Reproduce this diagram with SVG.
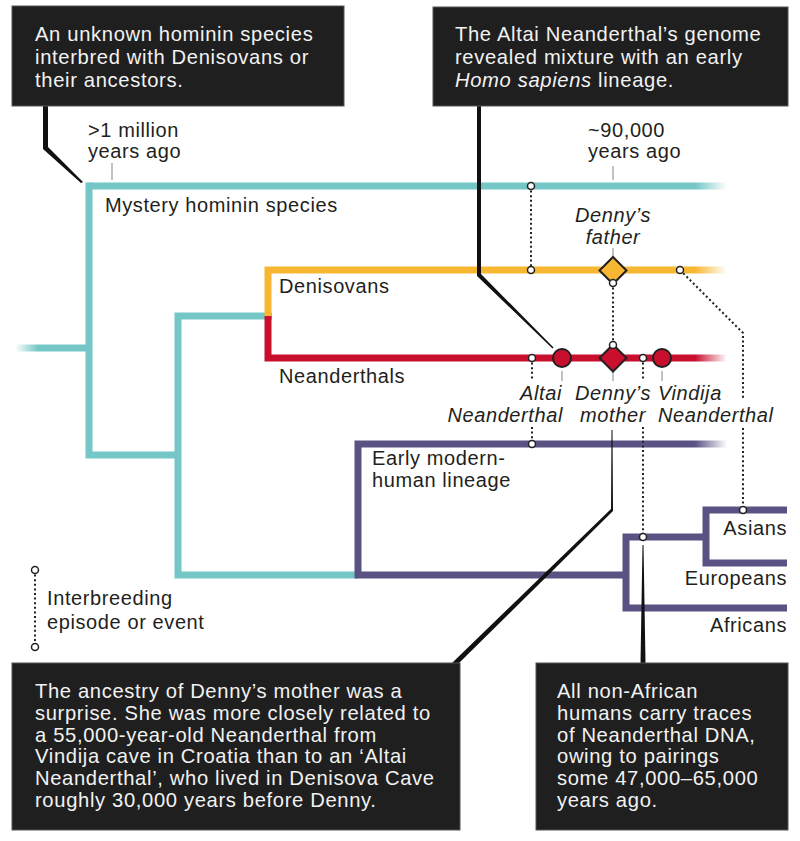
<svg xmlns="http://www.w3.org/2000/svg" width="800" height="841" viewBox="0 0 800 841">
<defs>
<style>
.box{fill:#1f1f1f;stroke:#555;stroke-width:1}
.bt{font-family:"Liberation Sans",Arial,sans-serif;font-size:20.2px;fill:#f2f2f2;letter-spacing:0.65px}
.lb{font-family:"Liberation Sans",Arial,sans-serif;font-size:20px;fill:#231f20;letter-spacing:0.6px}
.it{font-style:italic}
.teal{fill:none;stroke:#74c6c7;stroke-width:7}
.yel{fill:none;stroke:#f8b733;stroke-width:7}
.red{fill:none;stroke:#c8102e;stroke-width:7}
.pur{fill:none;stroke:#5a5283;stroke-width:7}
.dot{fill:none;stroke:#222;stroke-width:2;stroke-dasharray:2 2.6}
.pt{fill:#fff;stroke:#222;stroke-width:1.5}
.tick{stroke:#999;stroke-width:1.2}
.ptr{fill:#111}
</style>
<linearGradient id="fT" gradientUnits="userSpaceOnUse" x1="695" y1="0" x2="727" y2="0"><stop offset="0" stop-color="#74c6c7"/><stop offset="1" stop-color="#74c6c7" stop-opacity="0"/></linearGradient>
<linearGradient id="fY" gradientUnits="userSpaceOnUse" x1="695" y1="0" x2="727" y2="0"><stop offset="0" stop-color="#f8b733"/><stop offset="1" stop-color="#f8b733" stop-opacity="0"/></linearGradient>
<linearGradient id="fR" gradientUnits="userSpaceOnUse" x1="695" y1="0" x2="727" y2="0"><stop offset="0" stop-color="#c8102e"/><stop offset="1" stop-color="#c8102e" stop-opacity="0"/></linearGradient>
<linearGradient id="fP" gradientUnits="userSpaceOnUse" x1="695" y1="0" x2="727" y2="0"><stop offset="0" stop-color="#5a5283"/><stop offset="1" stop-color="#5a5283" stop-opacity="0"/></linearGradient>
<linearGradient id="fL" gradientUnits="userSpaceOnUse" x1="15" y1="0" x2="38" y2="0"><stop offset="0" stop-color="#74c6c7" stop-opacity="0"/><stop offset="1" stop-color="#74c6c7"/></linearGradient>
</defs>
<rect width="800" height="841" fill="#fff"/>

<g id="tree">
<rect x="15" y="344.5" width="74" height="7" fill="url(#fL)"/>
<rect x="89" y="182.5" width="638" height="7" fill="url(#fT)"/>
<path class="teal" d="M89,182.5 V455 H178"/>
<path class="teal" d="M272,316 H178 V575 H358"/>
<path class="yel" d="M268,316 V270 H695"/>
<rect x="695" y="266.5" width="32" height="7" fill="url(#fY)"/>
<path class="red" d="M268,316 V358 H695"/>
<rect x="695" y="354.5" width="32" height="7" fill="url(#fR)"/>
<path class="pur" d="M695,444 H358 V575 H626"/>
<rect x="695" y="440.5" width="32" height="7" fill="url(#fP)"/>
<path class="pur" d="M706,537 H626 V608 H787"/>
<path class="pur" d="M787,510 H706 V563 H787"/>
</g>

<g id="connectors">
<path class="dot" d="M531,186 V270"/>
<path class="dot" d="M613,283 V345"/>
<path class="dot" d="M680,270 L743,333 V400 M743,428 V510"/>
<path class="dot" d="M532,358 V380 M532,427 V444"/>
<path class="dot" d="M643,358 V380 M643,427 V537"/>
<path class="dot" d="M35,570 V647"/>
<line class="tick" x1="112" y1="163" x2="112" y2="180"/>
<line class="tick" x1="613" y1="166" x2="613" y2="180"/>
<line class="tick" x1="613" y1="248" x2="613" y2="257"/>
<line class="tick" x1="562" y1="371" x2="562" y2="381"/>
<line class="tick" x1="613" y1="371" x2="613" y2="381"/>
<line class="tick" x1="662" y1="371" x2="662" y2="381"/>
<polygon class="ptr" points="43,106 48,106 48,147 83,182 81,183 43,149"/>
<polygon class="ptr" points="477,106 481,106 481,274 553.5,347.5 552.5,348.5 477,276"/>
<polygon class="ptr" points="611.5,430 612.5,430 613,511 459,663 452,663 611,509"/>
<polygon class="ptr" points="642.5,545 643.5,545 645.5,663 640.5,663"/>
</g>

<g id="points">
<circle class="pt" cx="531" cy="186" r="3.5"/>
<circle class="pt" cx="531" cy="270" r="3.5"/>
<circle class="pt" cx="680" cy="270" r="3.5"/>
<circle class="pt" cx="743" cy="510" r="3.5"/>
<circle class="pt" cx="532" cy="358" r="3.5"/>
<circle class="pt" cx="532" cy="444" r="3.5"/>
<circle class="pt" cx="643" cy="358" r="3.5"/>
<circle class="pt" cx="643" cy="537" r="3.5"/>
<circle class="pt" cx="35" cy="570" r="3.5"/>
<circle class="pt" cx="35" cy="647" r="3.5"/>
</g>

<g id="denny-father">
<polygon points="613,257 626.5,270.5 613,284 599.5,270.5" fill="#f8b733" stroke="#231f20" stroke-width="2"/>
<circle class="pt" cx="613" cy="283" r="3.5"/>
<text class="lb it" x="613" y="222" text-anchor="middle">Denny’s</text>
<text class="lb it" x="613" y="244" text-anchor="middle">father</text>
</g>
<g id="denny-mother">
<polygon points="613,344.5 626.5,358 613,371.5 599.5,358" fill="#c8102e" stroke="#231f20" stroke-width="2"/>
<circle class="pt" cx="613" cy="345" r="3.5"/>
<text class="lb it" x="613" y="400" text-anchor="middle">Denny’s</text>
<text class="lb it" x="613" y="422" text-anchor="middle">mother</text>
</g>
<g id="altai">
<circle cx="562" cy="358" r="9" fill="#c8102e" stroke="#231f20" stroke-width="2"/>
<text class="lb it" x="562" y="400" text-anchor="end">Altai</text>
<text class="lb it" x="563" y="422" text-anchor="end">Neanderthal</text>
</g>
<g id="vindija">
<circle cx="662" cy="358" r="9" fill="#c8102e" stroke="#231f20" stroke-width="2"/>
<text class="lb it" x="658" y="400">Vindija</text>
<text class="lb it" x="658" y="422">Neanderthal</text>
</g>

<g id="labels">
<text class="lb" x="88" y="137">&gt;1 million</text>
<text class="lb" x="88" y="158">years ago</text>
<text class="lb" x="588" y="137">~90,000</text>
<text class="lb" x="588" y="158">years ago</text>
<text class="lb" x="105" y="212">Mystery hominin species</text>
<text class="lb" x="279" y="293">Denisovans</text>
<text class="lb" x="279" y="383">Neanderthals</text>
<text class="lb" x="372" y="465">Early modern-</text>
<text class="lb" x="372" y="487">human lineage</text>
<text class="lb" x="787" y="535" text-anchor="end">Asians</text>
<text class="lb" x="787" y="585" text-anchor="end">Europeans</text>
<text class="lb" x="787" y="632" text-anchor="end">Africans</text>
<text class="lb" x="47" y="605">Interbreeding</text>
<text class="lb" x="47" y="629">episode or event</text>
</g>

<g id="box-mystery">
<rect class="box" x="12" y="6" width="332" height="100"/>
<text class="bt" x="35" y="41">An unknown hominin species</text>
<text class="bt" x="35" y="64">interbred with Denisovans or</text>
<text class="bt" x="35" y="87">their ancestors.</text>
</g>
<g id="box-altai">
<rect class="box" x="433" y="7" width="355" height="99"/>
<text class="bt" x="455" y="41">The Altai Neanderthal’s genome</text>
<text class="bt" x="455" y="64">revealed mixture with an early</text>
<text class="bt" x="455" y="87"><tspan class="it">Homo sapiens</tspan> lineage.</text>
</g>
<g id="box-mother">
<rect class="box" x="12" y="663" width="448" height="167"/>
<text class="bt" x="35" y="698">The ancestry of Denny’s mother was a</text>
<text class="bt" x="35" y="720">surprise. She was more closely related to</text>
<text class="bt" x="35" y="742">a 55,000-year-old Neanderthal from</text>
<text class="bt" x="35" y="763">Vindija cave in Croatia than to an ‘Altai</text>
<text class="bt" x="35" y="785">Neanderthal’, who lived in Denisova Cave</text>
<text class="bt" x="35" y="807">roughly 30,000 years before Denny.</text>
</g>
<g id="box-nonafrican">
<rect class="box" x="536" y="663" width="252" height="167"/>
<text class="bt" x="557" y="698">All non-African</text>
<text class="bt" x="557" y="720">humans carry traces</text>
<text class="bt" x="557" y="742">of Neanderthal DNA,</text>
<text class="bt" x="557" y="763">owing to pairings</text>
<text class="bt" x="557" y="785">some 47,000–65,000</text>
<text class="bt" x="557" y="807">years ago.</text>
</g>
</svg>
